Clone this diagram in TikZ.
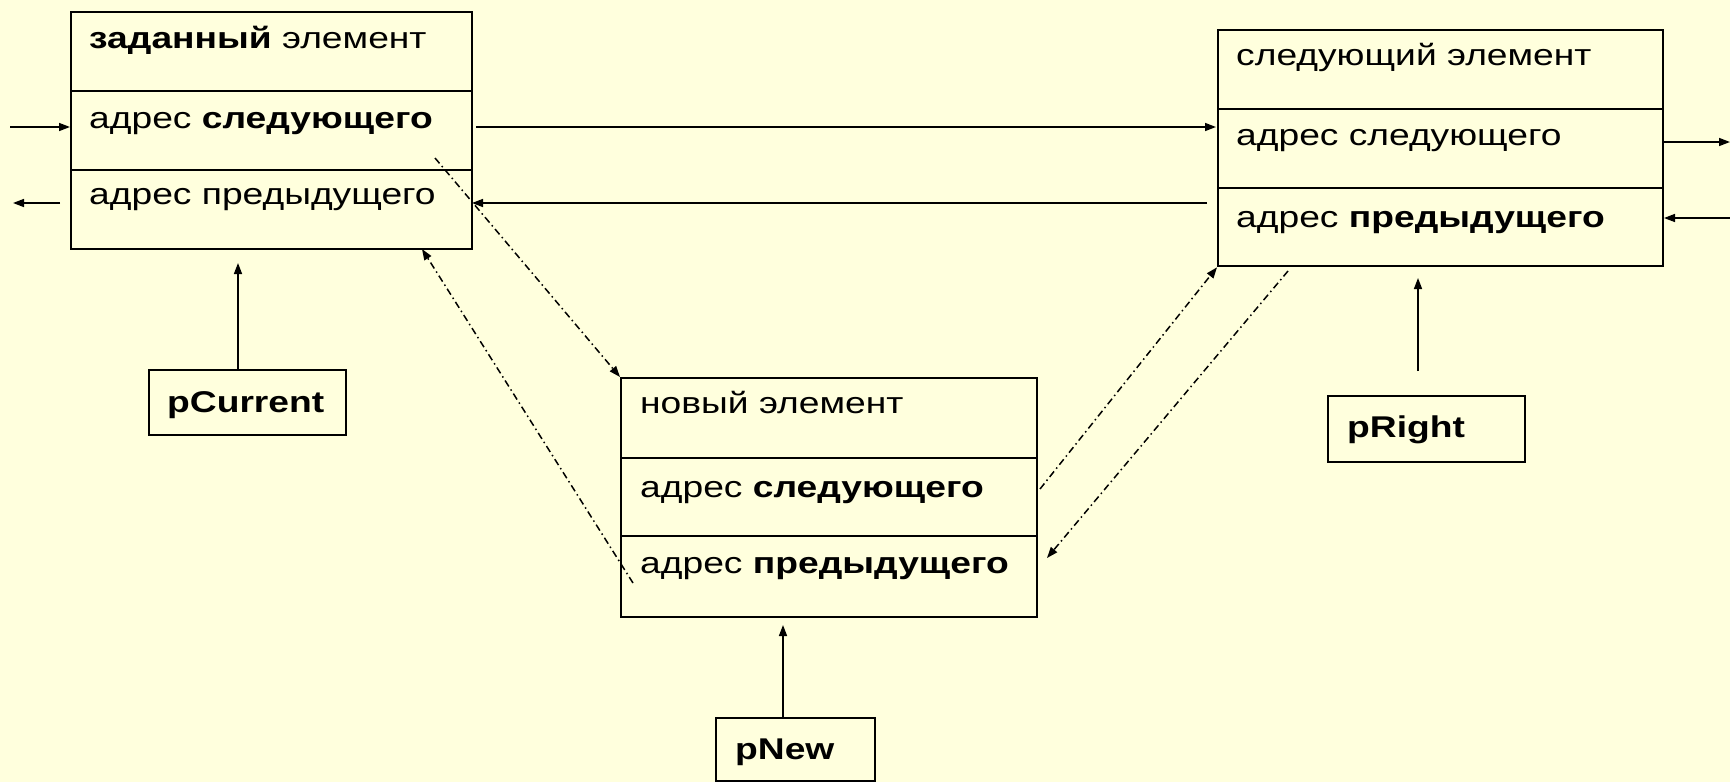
\documentclass[tikz,border=0pt]{standalone}
\usepackage{fontspec}
\setmainfont[FakeStretch=1.24]{Liberation Sans}
\usetikzlibrary{arrows.meta}
\definecolor{bgyellow}{RGB}{255,255,221}
\begin{document}
\begin{tikzpicture}[x=1pt,y=-1pt,
  cell/.style={draw=black,line width=2.3pt,inner sep=0pt,anchor=north west},
  txt/.style={anchor=base west,inner sep=0pt,font=\fontsize{30}{33}\selectfont},
  ptr/.style={draw=black,line width=2.3pt,inner sep=0pt,anchor=north west},
  conn/.style={line width=1.5pt,-{Triangle[length=11pt,width=8pt]}},
  dd/.style={line width=1.5pt,dash pattern=on 7pt off 3.5pt on 1.5pt off 3.5pt,-{Triangle[length=11pt,width=8pt]}}]
\fill[bgyellow] (0,0) rectangle (1730,782);
\useasboundingbox (0,0) rectangle (1730,782);
% box A
\node[cell,minimum width=401pt,minimum height=79pt] (a1) at (70,11) {};
\node[cell,minimum width=401pt,minimum height=79pt] (a2) at (70,90) {};
\node[cell,minimum width=401pt,minimum height=79pt] (a3) at (70,169) {};
\node[txt] (ta1) at (89,48) {\textbf{заданный} элемент};
\node[txt] (ta2) at (89,128) {адрес \textbf{следующего}};
\node[txt] (ta3) at (89,204) {адрес предыдущего};
% box B
\node[cell,minimum width=445pt,minimum height=79pt] (b1) at (1217,29) {};
\node[cell,minimum width=445pt,minimum height=79pt] (b2) at (1217,108) {};
\node[cell,minimum width=445pt,minimum height=78pt] (b3) at (1217,187) {};
\node[txt] (tb1) at (1236,65) {следующий элемент};
\node[txt] (tb2) at (1236,145) {адрес следующего};
\node[txt] (tb3) at (1236,227) {адрес \textbf{предыдущего}};
% box C
\node[cell,minimum width=416pt,minimum height=80pt] (c1) at (620,377) {};
\node[cell,minimum width=416pt,minimum height=78pt] (c2) at (620,457) {};
\node[cell,minimum width=416pt,minimum height=81pt] (c3) at (620,535) {};
\node[txt] (tc1) at (640,413) {новый элемент};
\node[txt] (tc2) at (640,497) {адрес \textbf{следующего}};
\node[txt] (tc3) at (640,573) {адрес \textbf{предыдущего}};
% pointers
\node[ptr,minimum width=197pt,minimum height=65pt] (pc) at (148,369) {};
\node[txt] (tpc) at (167,412) {\textbf{pCurrent}};
\node[ptr,minimum width=197pt,minimum height=66pt] (pr) at (1327,395) {};
\node[txt] (tpr) at (1347,437) {\textbf{pRight}};
\node[ptr,minimum width=159pt,minimum height=63pt] (pn) at (715,717) {};
\node[txt] (tpn) at (735,759) {\textbf{pNew}};
% coordinates
\coordinate (inL0) at (10,127);   \coordinate (inL1) at (70,127);
\coordinate (outL0) at (60,203);  \coordinate (outL1) at (13,203);
\coordinate (ab0) at (476,127);   \coordinate (ab1) at (1216,127);
\coordinate (ba0) at (1207,203);  \coordinate (ba1) at (472,203);
\coordinate (outR0) at (1662,142); \coordinate (outR1) at (1730,142);
\coordinate (inR0) at (1730,218); \coordinate (inR1) at (1664,218);
\coordinate (pc1) at (238,263);
\coordinate (pr0) at (1418,371); \coordinate (pr1) at (1418,278);
\coordinate (pn1) at (783,625);
\coordinate (d1s) at (435,158);
\coordinate (d2s) at (633,583); \coordinate (d2e) at (422,249);
\coordinate (d3s) at (1040,489);
\coordinate (d4s) at (1288,271); \coordinate (d4e) at (1047,558);
% connectors
\draw[conn] (inL0) -- (inL1);
\draw[conn] (outL0) -- (outL1);
\draw[conn] (ab0) -- (ab1);
\draw[conn] (ba0) -- (ba1);
\draw[conn] (outR0) -- (outR1);
\draw[conn] (inR0) -- (inR1);
\draw[conn] (pc.north -| pc1) -- (pc1);
\draw[conn] (pr0) -- (pr1);
\draw[conn] (pn.north -| pn1) -- (pn1);
\draw[dd] (d1s) -- (c1.north west);
\draw[dd] (d2s) -- (d2e);
\draw[dd] (d3s) -- (b3.south west);
\draw[dd] (d4s) -- (d4e);
\end{tikzpicture}
\end{document}
